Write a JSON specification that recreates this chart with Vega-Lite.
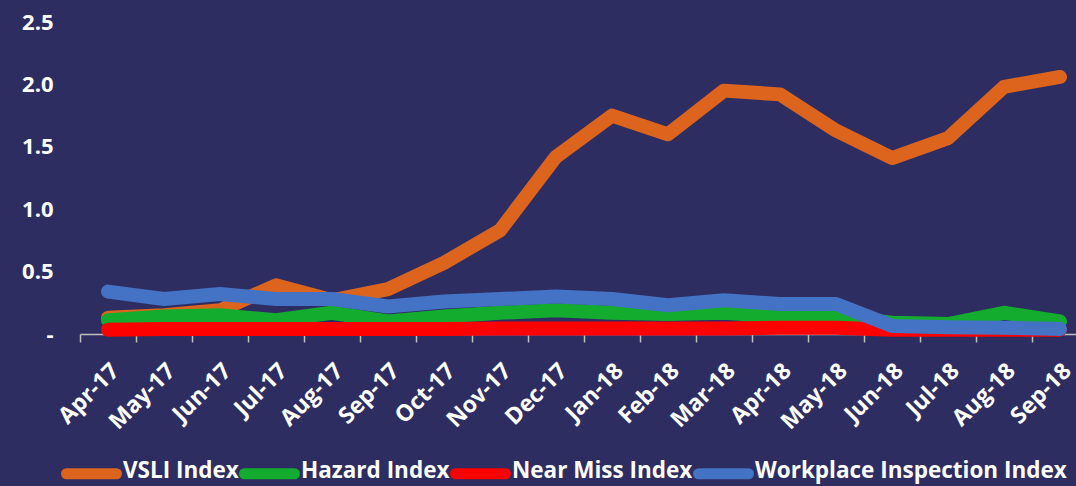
{
  "$schema": "https://vega.github.io/schema/vega-lite/v6.json",
  "autosize": {"type": "none"},
  "width": 996,
  "height": 312,
  "padding": {"left": 80, "top": 22, "right": 0, "bottom": 152},
  "background": "#2E2D62",
  "config": {"view": {"stroke": null}, "font": "Open Sans"},
  "data": {
    "values": [
      {"month": "Apr-17", "series": "VSLI Index", "value": 0.13},
      {"month": "May-17", "series": "VSLI Index", "value": 0.15},
      {"month": "Jun-17", "series": "VSLI Index", "value": 0.19},
      {"month": "Jul-17", "series": "VSLI Index", "value": 0.39},
      {"month": "Aug-17", "series": "VSLI Index", "value": 0.27},
      {"month": "Sep-17", "series": "VSLI Index", "value": 0.36},
      {"month": "Oct-17", "series": "VSLI Index", "value": 0.57},
      {"month": "Nov-17", "series": "VSLI Index", "value": 0.83},
      {"month": "Dec-17", "series": "VSLI Index", "value": 1.42},
      {"month": "Jan-18", "series": "VSLI Index", "value": 1.75},
      {"month": "Feb-18", "series": "VSLI Index", "value": 1.6},
      {"month": "Mar-18", "series": "VSLI Index", "value": 1.95},
      {"month": "Apr-18", "series": "VSLI Index", "value": 1.92},
      {"month": "May-18", "series": "VSLI Index", "value": 1.63},
      {"month": "Jun-18", "series": "VSLI Index", "value": 1.41},
      {"month": "Jul-18", "series": "VSLI Index", "value": 1.57},
      {"month": "Aug-18", "series": "VSLI Index", "value": 1.98},
      {"month": "Sep-18", "series": "VSLI Index", "value": 2.06},
      {"month": "Apr-17", "series": "Hazard Index", "value": 0.11},
      {"month": "May-17", "series": "Hazard Index", "value": 0.14},
      {"month": "Jun-17", "series": "Hazard Index", "value": 0.15},
      {"month": "Jul-17", "series": "Hazard Index", "value": 0.11},
      {"month": "Aug-17", "series": "Hazard Index", "value": 0.17},
      {"month": "Sep-17", "series": "Hazard Index", "value": 0.1},
      {"month": "Oct-17", "series": "Hazard Index", "value": 0.14},
      {"month": "Nov-17", "series": "Hazard Index", "value": 0.17},
      {"month": "Dec-17", "series": "Hazard Index", "value": 0.19},
      {"month": "Jan-18", "series": "Hazard Index", "value": 0.17},
      {"month": "Feb-18", "series": "Hazard Index", "value": 0.16},
      {"month": "Mar-18", "series": "Hazard Index", "value": 0.17},
      {"month": "Apr-18", "series": "Hazard Index", "value": 0.14},
      {"month": "May-18", "series": "Hazard Index", "value": 0.14},
      {"month": "Jun-18", "series": "Hazard Index", "value": 0.09},
      {"month": "Jul-18", "series": "Hazard Index", "value": 0.08},
      {"month": "Aug-18", "series": "Hazard Index", "value": 0.17},
      {"month": "Sep-18", "series": "Hazard Index", "value": 0.1},
      {"month": "Apr-17", "series": "Near Miss Index", "value": 0.035},
      {"month": "May-17", "series": "Near Miss Index", "value": 0.04},
      {"month": "Jun-17", "series": "Near Miss Index", "value": 0.04},
      {"month": "Jul-17", "series": "Near Miss Index", "value": 0.04},
      {"month": "Aug-17", "series": "Near Miss Index", "value": 0.04},
      {"month": "Sep-17", "series": "Near Miss Index", "value": 0.04},
      {"month": "Oct-17", "series": "Near Miss Index", "value": 0.04},
      {"month": "Nov-17", "series": "Near Miss Index", "value": 0.045},
      {"month": "Dec-17", "series": "Near Miss Index", "value": 0.045},
      {"month": "Jan-18", "series": "Near Miss Index", "value": 0.045},
      {"month": "Feb-18", "series": "Near Miss Index", "value": 0.045},
      {"month": "Mar-18", "series": "Near Miss Index", "value": 0.045},
      {"month": "Apr-18", "series": "Near Miss Index", "value": 0.05},
      {"month": "May-18", "series": "Near Miss Index", "value": 0.05},
      {"month": "Jun-18", "series": "Near Miss Index", "value": 0.035},
      {"month": "Jul-18", "series": "Near Miss Index", "value": 0.035},
      {"month": "Aug-18", "series": "Near Miss Index", "value": 0.035},
      {"month": "Sep-18", "series": "Near Miss Index", "value": 0.035},
      {"month": "Apr-17", "series": "Workplace Inspection Index", "value": 0.34},
      {"month": "May-17", "series": "Workplace Inspection Index", "value": 0.28},
      {"month": "Jun-17", "series": "Workplace Inspection Index", "value": 0.32},
      {"month": "Jul-17", "series": "Workplace Inspection Index", "value": 0.28},
      {"month": "Aug-17", "series": "Workplace Inspection Index", "value": 0.28},
      {"month": "Sep-17", "series": "Workplace Inspection Index", "value": 0.22},
      {"month": "Oct-17", "series": "Workplace Inspection Index", "value": 0.26},
      {"month": "Nov-17", "series": "Workplace Inspection Index", "value": 0.28},
      {"month": "Dec-17", "series": "Workplace Inspection Index", "value": 0.3},
      {"month": "Jan-18", "series": "Workplace Inspection Index", "value": 0.28},
      {"month": "Feb-18", "series": "Workplace Inspection Index", "value": 0.23},
      {"month": "Mar-18", "series": "Workplace Inspection Index", "value": 0.27},
      {"month": "Apr-18", "series": "Workplace Inspection Index", "value": 0.24},
      {"month": "May-18", "series": "Workplace Inspection Index", "value": 0.24},
      {"month": "Jun-18", "series": "Workplace Inspection Index", "value": 0.065},
      {"month": "Jul-18", "series": "Workplace Inspection Index", "value": 0.055},
      {"month": "Aug-18", "series": "Workplace Inspection Index", "value": 0.05},
      {"month": "Sep-18", "series": "Workplace Inspection Index", "value": 0.04}
    ]
  },
  "encoding": {
    "x": {
      "field": "month",
      "type": "ordinal",
      "scale": {
        "type": "band",
        "domain": ["Apr-17", "May-17", "Jun-17", "Jul-17", "Aug-17", "Sep-17", "Oct-17", "Nov-17", "Dec-17", "Jan-18", "Feb-18", "Mar-18", "Apr-18", "May-18", "Jun-18", "Jul-18", "Aug-18", "Sep-18"],
        "range": [0, 1008],
        "paddingInner": 0,
        "paddingOuter": 0
      },
      "axis": {
        "title": null,
        "labelAngle": -45,
        "labelAlign": "right",
        "labelBaseline": "middle",
        "labelColor": "white",
        "labelFont": "Open Sans",
        "labelFontWeight": "bold",
        "labelFontSize": 23,
        "labelPadding": 25,
        "labelOffset": 7,
        "labelOverlap": false,
        "tickColor": "#BFBFBF",
        "tickSize": 8,
        "tickWidth": 1.5,
        "tickBand": "extent",
        "domainColor": "#BFBFBF",
        "domainWidth": 1.5,
        "grid": false
      }
    },
    "y": {
      "field": "value",
      "type": "quantitative",
      "scale": {"domain": [0, 2.5]},
      "axis": {
        "title": null,
        "values": [0, 0.5, 1, 1.5, 2, 2.5],
        "labelExpr": "datum.value == 0 ? '-' : format(datum.value, '.1f')",
        "domain": false,
        "ticks": false,
        "tickSize": 0,
        "grid": false,
        "labelColor": "white",
        "labelFont": "Open Sans",
        "labelFontSize": 22,
        "labelFontWeight": "bold",
        "labelPadding": 27
      }
    },
    "color": {
      "field": "series",
      "type": "nominal",
      "scale": {
        "domain": ["VSLI Index", "Hazard Index", "Near Miss Index", "Workplace Inspection Index"],
        "range": ["#DC641C", "#13AC2E", "#FF0000", "#4472C4"]
      },
      "legend": {
        "title": null,
        "orient": "none",
        "direction": "horizontal",
        "legendX": -19,
        "legendY": 421,
        "symbolType": "stroke",
        "symbolSize": 2500,
        "symbolStrokeWidth": 11,
        "labelColor": "white",
        "labelFont": "Open Sans",
        "labelFontSize": 22.5,
        "labelFontWeight": "bold",
        "labelOffset": 1,
        "columnPadding": -19,
        "labelLimit": 400,
        "encode": {
          "symbols": {"update": {"strokeCap": {"value": "round"}}},
          "labels": {"update": {"dy": {"value": -2.5}}}
        }
      }
    }
  },
  "layer": [
    {"transform": [{"filter": "datum.series === 'VSLI Index'"}], "mark": {"type": "line", "strokeWidth": 14, "strokeCap": "round", "strokeJoin": "round"}},
    {"transform": [{"filter": "datum.series === 'Hazard Index'"}], "mark": {"type": "line", "strokeWidth": 14, "strokeCap": "round", "strokeJoin": "round"}},
    {"transform": [{"filter": "datum.series === 'Near Miss Index'"}], "mark": {"type": "line", "strokeWidth": 14, "strokeCap": "round", "strokeJoin": "round"}},
    {"transform": [{"filter": "datum.series === 'Workplace Inspection Index'"}], "mark": {"type": "line", "strokeWidth": 14, "strokeCap": "round", "strokeJoin": "round"}}
  ]
}
